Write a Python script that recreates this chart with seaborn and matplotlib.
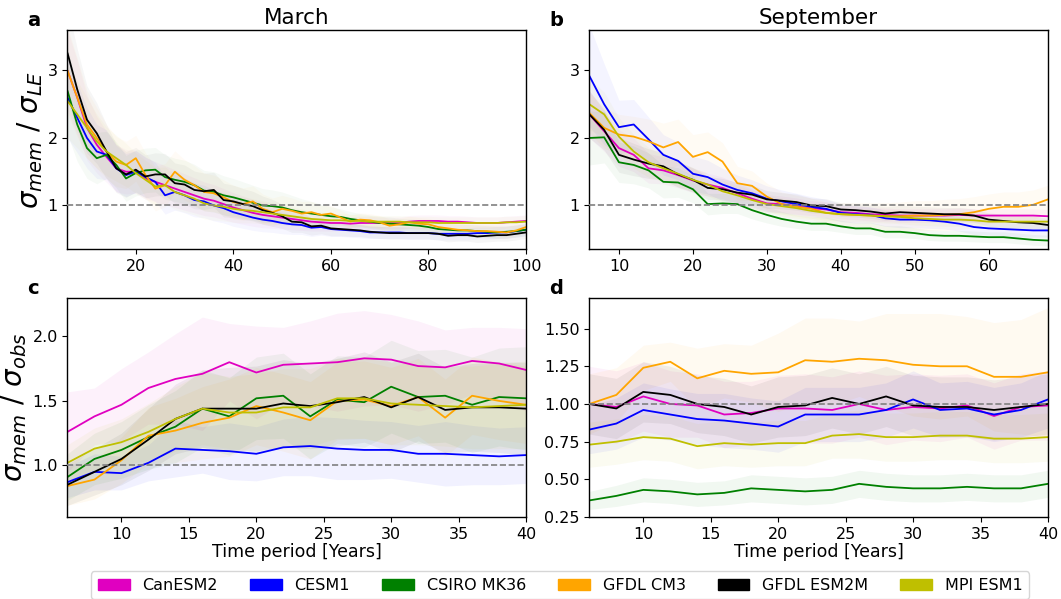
import numpy as np
import matplotlib
matplotlib.use("Agg")
import matplotlib.pyplot as plt
from matplotlib.patches import Patch
import seaborn as sns

# ---------------------------------------------------------------- models
models = ["CanESM2", "CESM1", "CSIRO MK36", "GFDL CM3", "GFDL ESM2M", "MPI ESM1"]
colors = ["#e000c0", "#0000ff", "#008000", "#ffa500", "#000000", "#bfbf00"]

# ---------------------------------------------------------------- time axes
years_a = list(range(6, 101, 2))
years_b = list(range(6, 69, 2))
years_cd = list(range(6, 41, 2))

# ---------------------------------------------------------------- (a) March, sigma_mem / sigma_LE
a_can = [3.0, 2.6, 2.15, 1.9, 1.72, 1.55, 1.5, 1.5, 1.4, 1.35,
         1.3, 1.25, 1.2, 1.15, 1.1, 1.07, 1.02, 0.97, 0.93, 0.89,
         0.86, 0.84, 0.82, 0.8, 0.78, 0.76, 0.75, 0.74, 0.74, 0.73,
         0.74, 0.74, 0.74, 0.74, 0.74, 0.76, 0.77, 0.77, 0.77, 0.76,
         0.76, 0.75, 0.74, 0.74, 0.74, 0.75, 0.76, 0.77]
a_cesm = [2.6, 2.3, 2.0, 1.8, 1.75, 1.55, 1.45, 1.5, 1.42, 1.35,
          1.15, 1.2, 1.15, 1.08, 1.06, 1.0, 0.96, 0.9, 0.86, 0.82,
          0.79, 0.77, 0.74, 0.72, 0.71, 0.67, 0.68, 0.65, 0.64, 0.63,
          0.62, 0.6, 0.6, 0.6, 0.6, 0.59, 0.59, 0.59, 0.58, 0.58,
          0.58, 0.58, 0.59, 0.59, 0.6, 0.6, 0.62, 0.64]
a_csiro = [2.7, 2.2, 1.85, 1.7, 1.75, 1.6, 1.4, 1.48, 1.52, 1.53,
           1.42, 1.38, 1.35, 1.3, 1.22, 1.2, 1.15, 1.12, 1.08, 1.04,
           1.0, 0.99, 0.97, 0.93, 0.9, 0.88, 0.86, 0.84, 0.83, 0.8,
           0.78, 0.76, 0.74, 0.73, 0.72, 0.71, 0.7, 0.68, 0.65, 0.64,
           0.63, 0.63, 0.62, 0.61, 0.6, 0.61, 0.62, 0.64]
a_cm3 = [3.0, 2.6, 2.2, 2.0, 1.8, 1.65, 1.6, 1.7, 1.45, 1.25,
         1.3, 1.5, 1.38, 1.3, 1.2, 1.18, 1.12, 1.05, 1.02, 1.06,
         0.95, 0.9, 0.95, 0.92, 0.88, 0.9, 0.86, 0.88, 0.82, 0.76,
         0.79, 0.78, 0.75, 0.7, 0.72, 0.75, 0.73, 0.72, 0.68, 0.66,
         0.64, 0.63, 0.62, 0.62, 0.61, 0.6, 0.63, 0.68]
a_esm2m = [3.26, 2.72, 2.27, 2.07, 1.8, 1.55, 1.46, 1.53, 1.43, 1.46,
           1.46, 1.33, 1.31, 1.23, 1.21, 1.23, 1.08, 1.06, 1.02, 0.99,
           0.93, 0.89, 0.84, 0.76, 0.75, 0.69, 0.7, 0.66, 0.65, 0.64,
           0.63, 0.61, 0.6, 0.59, 0.59, 0.59, 0.59, 0.59, 0.58, 0.55,
           0.56, 0.56, 0.54, 0.55, 0.56, 0.56, 0.58, 0.6]
a_mpi = [2.55, 2.35, 2.15, 1.95, 1.8, 1.7, 1.6, 1.48, 1.38, 1.28,
         1.3, 1.2, 1.15, 1.1, 1.03, 1.0, 0.98, 0.95, 0.93, 0.92,
         0.9, 0.88, 0.86, 0.84, 0.82, 0.8, 0.79, 0.78, 0.78, 0.77,
         0.77, 0.76, 0.76, 0.76, 0.76, 0.75, 0.75, 0.75, 0.74, 0.74,
         0.74, 0.74, 0.74, 0.74, 0.74, 0.75, 0.75, 0.76]

a_can_sd = [0.6, 0.55, 0.48, 0.42, 0.38, 0.35, 0.33, 0.32, 0.31, 0.3,
            0.29, 0.28, 0.27, 0.26, 0.25, 0.24, 0.23, 0.22, 0.21, 0.2,
            0.19, 0.18, 0.17, 0.16, 0.15, 0.14, 0.13, 0.12, 0.11, 0.1,
            0.1, 0.1, 0.09, 0.09, 0.09, 0.09, 0.09, 0.09, 0.09, 0.09,
            0.09, 0.09, 0.09, 0.09, 0.09, 0.09, 0.09, 0.09]
a_cesm_sd = [0.6, 0.52, 0.45, 0.4, 0.37, 0.34, 0.32, 0.31, 0.3, 0.29,
             0.28, 0.27, 0.26, 0.25, 0.24, 0.23, 0.22, 0.21, 0.2, 0.19,
             0.18, 0.17, 0.16, 0.15, 0.14, 0.13, 0.12, 0.11, 0.1, 0.1,
             0.1, 0.09, 0.09, 0.09, 0.09, 0.09, 0.09, 0.09, 0.09, 0.09,
             0.09, 0.09, 0.09, 0.09, 0.09, 0.09, 0.09, 0.09]
a_csiro_sd = [0.65, 0.55, 0.45, 0.38, 0.35, 0.34, 0.34, 0.34, 0.33, 0.33,
              0.33, 0.32, 0.32, 0.31, 0.3, 0.3, 0.29, 0.28, 0.27, 0.26,
              0.25, 0.24, 0.23, 0.22, 0.2, 0.18, 0.16, 0.14, 0.12, 0.11,
              0.1, 0.1, 0.1, 0.1, 0.09, 0.09, 0.09, 0.09, 0.09, 0.09,
              0.09, 0.09, 0.09, 0.09, 0.09, 0.09, 0.09, 0.09]
a_cm3_sd = [0.65, 0.58, 0.5, 0.45, 0.4, 0.37, 0.35, 0.34, 0.33, 0.33,
            0.32, 0.31, 0.3, 0.29, 0.28, 0.27, 0.26, 0.25, 0.24, 0.23,
            0.22, 0.21, 0.2, 0.19, 0.18, 0.16, 0.14, 0.12, 0.11, 0.1,
            0.1, 0.1, 0.1, 0.1, 0.09, 0.09, 0.09, 0.09, 0.09, 0.09,
            0.09, 0.09, 0.09, 0.09, 0.09, 0.09, 0.09, 0.09]
a_esm2m_sd = [0.7, 0.6, 0.5, 0.45, 0.4, 0.36, 0.34, 0.33, 0.32, 0.32,
              0.31, 0.3, 0.29, 0.28, 0.27, 0.26, 0.25, 0.24, 0.23, 0.22,
              0.21, 0.2, 0.18, 0.16, 0.15, 0.13, 0.12, 0.11, 0.1, 0.1,
              0.09, 0.09, 0.09, 0.09, 0.09, 0.09, 0.09, 0.09, 0.09, 0.09,
              0.09, 0.09, 0.09, 0.09, 0.09, 0.09, 0.09, 0.09]
a_mpi_sd = [0.55, 0.5, 0.45, 0.4, 0.36, 0.34, 0.32, 0.3, 0.29, 0.28,
            0.27, 0.26, 0.25, 0.24, 0.23, 0.22, 0.21, 0.2, 0.19, 0.18,
            0.17, 0.16, 0.15, 0.14, 0.13, 0.12, 0.11, 0.1, 0.1, 0.1,
            0.09, 0.09, 0.09, 0.09, 0.09, 0.09, 0.09, 0.09, 0.09, 0.09,
            0.09, 0.09, 0.09, 0.09, 0.09, 0.09, 0.09, 0.09]

# ---------------------------------------------------------------- (b) September, sigma_mem / sigma_LE
b_can = [2.35, 2.1, 1.85, 1.75, 1.55, 1.52, 1.45, 1.37, 1.31, 1.26,
         1.18, 1.1, 1.03, 1.02, 0.99, 0.96, 0.94, 0.9, 0.89, 0.87,
         0.86, 0.85, 0.85, 0.85, 0.85, 0.86, 0.85, 0.85, 0.85, 0.85,
         0.85, 0.84]
b_cesm = [2.92, 2.5, 2.16, 2.2, 1.98, 1.75, 1.66, 1.47, 1.42, 1.31,
          1.23, 1.18, 1.1, 1.06, 1.02, 0.98, 0.95, 0.89, 0.87, 0.86,
          0.81, 0.79, 0.79, 0.78, 0.76, 0.73, 0.68, 0.66, 0.65, 0.64,
          0.63, 0.63]
b_csiro = [2.0, 2.01, 1.64, 1.6, 1.52, 1.35, 1.34, 1.24, 1.02, 1.03,
           1.02, 0.93, 0.86, 0.8, 0.76, 0.73, 0.73, 0.69, 0.66, 0.66,
           0.61, 0.61, 0.59, 0.56, 0.55, 0.55, 0.54, 0.53, 0.53, 0.51,
           0.49, 0.48]
b_cm3 = [2.37, 2.15, 2.05, 2.02, 1.95, 1.86, 1.94, 1.72, 1.79, 1.65,
         1.33, 1.29, 1.13, 1.02, 0.98, 0.95, 0.89, 0.87, 0.86, 0.85,
         0.84, 0.84, 0.85, 0.85, 0.86, 0.87, 0.9, 0.95, 0.98, 0.98,
         1.01, 1.09]
b_esm2m = [2.35, 2.12, 1.75, 1.68, 1.62, 1.58, 1.46, 1.38, 1.26, 1.24,
           1.19, 1.16, 1.09, 1.07, 1.05, 1.0, 0.99, 0.94, 0.93, 0.91,
           0.88, 0.9, 0.89, 0.88, 0.87, 0.87, 0.85, 0.79, 0.77, 0.75,
           0.74, 0.71]
b_mpi = [2.5, 2.35, 2.02, 1.8, 1.64, 1.55, 1.47, 1.38, 1.31, 1.21,
         1.15, 1.08, 1.02, 0.99, 0.96, 0.92, 0.89, 0.87, 0.86, 0.85,
         0.84, 0.83, 0.81, 0.8, 0.79, 0.79, 0.78, 0.76, 0.76, 0.76,
         0.76, 0.76]

b_can_sd = [0.35, 0.3, 0.27, 0.25, 0.22, 0.2, 0.19, 0.18, 0.17, 0.16,
            0.15, 0.14, 0.13, 0.12, 0.12, 0.11, 0.11, 0.1, 0.1, 0.1,
            0.1, 0.1, 0.1, 0.1, 0.1, 0.1, 0.1, 0.1, 0.1, 0.1,
            0.1, 0.1]
b_cesm_sd = [0.75, 0.6, 0.4, 0.37, 0.33, 0.3, 0.28, 0.26, 0.25, 0.24,
             0.22, 0.2, 0.19, 0.17, 0.16, 0.15, 0.14, 0.13, 0.13, 0.12,
             0.12, 0.12, 0.12, 0.12, 0.11, 0.11, 0.11, 0.1, 0.1, 0.1,
             0.1, 0.1]
b_csiro_sd = [0.4, 0.38, 0.3, 0.28, 0.26, 0.24, 0.22, 0.2, 0.16, 0.15,
              0.14, 0.13, 0.12, 0.11, 0.1, 0.1, 0.1, 0.09, 0.09, 0.09,
              0.09, 0.09, 0.08, 0.08, 0.08, 0.08, 0.08, 0.08, 0.08, 0.08,
              0.08, 0.08]
b_cm3_sd = [0.3, 0.3, 0.3, 0.3, 0.33, 0.36, 0.34, 0.33, 0.3, 0.28,
            0.25, 0.22, 0.2, 0.18, 0.17, 0.16, 0.16, 0.17, 0.18, 0.19,
            0.2, 0.21, 0.22, 0.22, 0.23, 0.23, 0.23, 0.22, 0.22, 0.22,
            0.22, 0.21]
b_esm2m_sd = [0.35, 0.3, 0.26, 0.24, 0.22, 0.2, 0.19, 0.18, 0.17, 0.16,
              0.15, 0.14, 0.13, 0.12, 0.12, 0.11, 0.11, 0.1, 0.1, 0.1,
              0.1, 0.1, 0.1, 0.1, 0.1, 0.1, 0.1, 0.1, 0.1, 0.1,
              0.1, 0.1]
b_mpi_sd = [0.38, 0.33, 0.28, 0.25, 0.22, 0.2, 0.19, 0.18, 0.17, 0.16,
            0.15, 0.14, 0.13, 0.12, 0.12, 0.11, 0.11, 0.1, 0.1, 0.1,
            0.1, 0.1, 0.1, 0.1, 0.1, 0.1, 0.1, 0.1, 0.1, 0.1,
            0.1, 0.1]

# ---------------------------------------------------------------- (c) March, sigma_mem / sigma_obs
c_can = [1.26, 1.38, 1.47, 1.60, 1.67, 1.71, 1.80, 1.72, 1.78, 1.79,
         1.80, 1.83, 1.82, 1.77, 1.76, 1.81, 1.79, 1.74]
c_cesm = [0.87, 0.95, 0.94, 1.02, 1.13, 1.12, 1.11, 1.09, 1.14, 1.15,
          1.13, 1.12, 1.12, 1.09, 1.09, 1.08, 1.07, 1.08]
c_csiro = [0.91, 1.05, 1.12, 1.22, 1.30, 1.44, 1.38, 1.52, 1.54, 1.38,
           1.51, 1.49, 1.61, 1.53, 1.54, 1.47, 1.53, 1.52]
c_cm3 = [0.84, 0.89, 1.04, 1.23, 1.27, 1.33, 1.37, 1.46, 1.41, 1.35,
         1.50, 1.51, 1.46, 1.53, 1.37, 1.54, 1.50, 1.47]
c_esm2m = [0.85, 0.95, 1.05, 1.20, 1.36, 1.44, 1.44, 1.44, 1.48, 1.46,
           1.49, 1.53, 1.45, 1.53, 1.43, 1.45, 1.45, 1.44]
c_mpi = [1.02, 1.13, 1.18, 1.26, 1.36, 1.44, 1.41, 1.41, 1.45, 1.45,
         1.52, 1.52, 1.48, 1.47, 1.46, 1.45, 1.46, 1.47]

c_can_sd = [0.31, 0.22, 0.28, 0.28, 0.35, 0.44, 0.3, 0.36, 0.29, 0.33,
            0.38, 0.37, 0.35, 0.35, 0.29, 0.26, 0.28, 0.32]
c_cesm_sd = [0.12, 0.14, 0.13, 0.14, 0.22, 0.18, 0.22, 0.21, 0.22, 0.23,
             0.24, 0.23, 0.22, 0.22, 0.25, 0.23, 0.22, 0.22]
c_csiro_sd = [0.18, 0.2, 0.22, 0.25, 0.28, 0.3, 0.3, 0.32, 0.33, 0.33,
              0.34, 0.35, 0.36, 0.36, 0.36, 0.37, 0.38, 0.4]
c_cm3_sd = [0.15, 0.15, 0.18, 0.22, 0.25, 0.28, 0.3, 0.3, 0.3, 0.3,
            0.3, 0.3, 0.3, 0.3, 0.3, 0.3, 0.3, 0.3]
c_esm2m_sd = [0.16, 0.18, 0.2, 0.24, 0.27, 0.3, 0.32, 0.33, 0.34, 0.33,
              0.34, 0.35, 0.35, 0.34, 0.33, 0.34, 0.35, 0.36]
c_mpi_sd = [0.14, 0.16, 0.18, 0.22, 0.25, 0.28, 0.28, 0.3, 0.3, 0.3,
            0.31, 0.31, 0.32, 0.31, 0.31, 0.32, 0.33, 0.34]

# ---------------------------------------------------------------- (d) September, sigma_mem / sigma_obs
d_can = [1.00, 0.98, 1.05, 1.00, 0.99, 0.93, 0.94, 0.97, 0.97, 0.96,
         1.00, 0.96, 0.98, 0.97, 0.99, 0.92, 0.98, 0.99]
d_cesm = [0.83, 0.87, 0.96, 0.93, 0.90, 0.89, 0.87, 0.85, 0.93, 0.93,
          0.93, 0.96, 1.03, 0.96, 0.97, 0.93, 0.96, 1.03]
d_csiro = [0.36, 0.39, 0.43, 0.42, 0.40, 0.41, 0.44, 0.43, 0.42, 0.43,
           0.47, 0.45, 0.44, 0.44, 0.45, 0.44, 0.44, 0.47]
d_cm3 = [1.00, 1.06, 1.24, 1.28, 1.17, 1.22, 1.20, 1.21, 1.29, 1.28,
         1.30, 1.29, 1.26, 1.25, 1.25, 1.18, 1.18, 1.21]
d_esm2m = [1.00, 0.97, 1.08, 1.06, 1.00, 0.98, 0.93, 0.98, 0.99, 1.04,
           1.00, 1.05, 0.99, 0.98, 0.98, 0.96, 0.98, 1.00]
d_mpi = [0.73, 0.75, 0.78, 0.77, 0.72, 0.74, 0.73, 0.74, 0.74, 0.79,
         0.80, 0.78, 0.78, 0.79, 0.79, 0.77, 0.77, 0.78]

d_can_sd = [0.25, 0.24, 0.23, 0.22, 0.21, 0.22, 0.21, 0.22, 0.23, 0.22,
            0.22, 0.23, 0.22, 0.22, 0.21, 0.22, 0.22, 0.23]
d_cesm_sd = [0.16, 0.17, 0.18, 0.17, 0.17, 0.18, 0.17, 0.17, 0.18, 0.18,
             0.18, 0.18, 0.19, 0.18, 0.18, 0.18, 0.18, 0.19]
d_csiro_sd = [0.06, 0.07, 0.08, 0.08, 0.08, 0.08, 0.09, 0.09, 0.09, 0.09,
              0.09, 0.09, 0.09, 0.09, 0.09, 0.09, 0.09, 0.09]
d_cm3_sd = [0.2, 0.18, 0.15, 0.13, 0.2, 0.18, 0.19, 0.26, 0.28, 0.29,
            0.25, 0.31, 0.34, 0.35, 0.33, 0.36, 0.38, 0.43]
d_esm2m_sd = [0.2, 0.2, 0.2, 0.19, 0.19, 0.19, 0.19, 0.2, 0.2, 0.2,
              0.2, 0.2, 0.2, 0.2, 0.2, 0.2, 0.2, 0.2]
d_mpi_sd = [0.15, 0.15, 0.15, 0.15, 0.15, 0.15, 0.15, 0.15, 0.15, 0.15,
            0.16, 0.16, 0.16, 0.16, 0.16, 0.16, 0.16, 0.16]

# ---------------------------------------------------------------- style
sns.set_style("ticks")
plt.rcParams.update({
    "font.family": ["DejaVu Sans"],
    "text.color": "black",
    "axes.labelcolor": "black",
    "axes.edgecolor": "black",
    "axes.linewidth": 1.0,
    "xtick.color": "black",
    "ytick.color": "black",
    "xtick.labelsize": 11.5,
    "ytick.labelsize": 11.5,
    "mathtext.fontset": "dejavusans",
})

fig, axes = plt.subplots(2, 2, figsize=(10.61, 5.99), dpi=100)
fig.subplots_adjust(left=0.0636, right=0.9877, top=0.9499, bottom=0.1369,
                    wspace=0.138, hspace=0.2207)


def draw_panel(ax, years, means, spreads, band_alpha=0.05):
    for col, m, s in zip(colors, means, spreads):
        m = np.asarray(m, dtype=float)
        s = np.asarray(s, dtype=float)
        ax.fill_between(years, m - s, m + s, color=col, alpha=band_alpha,
                        linewidth=0)
    for col, m in zip(colors, means):
        sns.lineplot(x=years, y=m, color=col, linewidth=1.3, ax=ax,
                     legend=False, errorbar=None)
    ax.axhline(1.0, color="gray", linestyle="--", linewidth=1.2, zorder=5)
    ax.set_xlim(years[0], years[-1])


ax_a, ax_b = axes[0]
ax_c, ax_d = axes[1]

draw_panel(ax_a, years_a,
           [a_can, a_cesm, a_csiro, a_cm3, a_esm2m, a_mpi],
           [a_can_sd, a_cesm_sd, a_csiro_sd, a_cm3_sd, a_esm2m_sd, a_mpi_sd],
           band_alpha=0.035)
draw_panel(ax_b, years_b,
           [b_can, b_cesm, b_csiro, b_cm3, b_esm2m, b_mpi],
           [b_can_sd, b_cesm_sd, b_csiro_sd, b_cm3_sd, b_esm2m_sd, b_mpi_sd],
           band_alpha=0.045)
draw_panel(ax_c, years_cd,
           [c_can, c_cesm, c_csiro, c_cm3, c_esm2m, c_mpi],
           [c_can_sd, c_cesm_sd, c_csiro_sd, c_cm3_sd, c_esm2m_sd, c_mpi_sd],
           band_alpha=0.055)
draw_panel(ax_d, years_cd,
           [d_can, d_cesm, d_csiro, d_cm3, d_esm2m, d_mpi],
           [d_can_sd, d_cesm_sd, d_csiro_sd, d_cm3_sd, d_esm2m_sd, d_mpi_sd],
           band_alpha=0.055)

for ax in (ax_a, ax_b):
    ax.set_ylim(0.35, 3.6)
    ax.set_yticks([1, 2, 3])
ax_a.set_xticks([20, 40, 60, 80, 100])
ax_b.set_xticks([10, 20, 30, 40, 50, 60])

ax_c.set_ylim(0.6, 2.3)
ax_c.set_yticks([1.0, 1.5, 2.0])
ax_d.set_ylim(0.25, 1.705)
ax_d.set_yticks([0.25, 0.5, 0.75, 1.0, 1.25, 1.5])
ax_d.yaxis.set_major_formatter(matplotlib.ticker.FormatStrFormatter("%.2f"))
ax_c.yaxis.set_major_formatter(matplotlib.ticker.FormatStrFormatter("%.1f"))
for ax in (ax_c, ax_d):
    ax.set_xticks([10, 15, 20, 25, 30, 35, 40])
    ax.set_xlabel("Time period [Years]", fontsize=12.5, labelpad=1)

for ax in (ax_a, ax_b, ax_d):
    ax.set_ylabel("")
ax_b.set_xlabel("")
ax_a.set_xlabel("")
ax_a.set_ylabel(r"$\sigma_{mem}\ /\ \sigma_{LE}$", fontsize=20, labelpad=2)
ax_c.set_ylabel(r"$\sigma_{mem}\ /\ \sigma_{obs}$", fontsize=20, labelpad=2)

ax_a.set_title("March", fontsize=15.5, pad=4)
ax_b.set_title("September", fontsize=15.5, pad=4)

for ax, letter in zip((ax_a, ax_b, ax_c, ax_d), "abcd"):
    ax.text(-0.088, 1.0, letter, transform=ax.transAxes, fontsize=14,
            fontweight="bold", ha="left", va="bottom")

handles = [Patch(facecolor=c, edgecolor=c, label=m) for m, c in zip(models, colors)]
fig.legend(handles=handles, loc="upper center", ncol=6, fontsize=11.5,
           bbox_to_anchor=(0.528, 0.046), borderaxespad=0.0, frameon=True,
           columnspacing=2.0)

fig.savefig("out.png", dpi=100)
